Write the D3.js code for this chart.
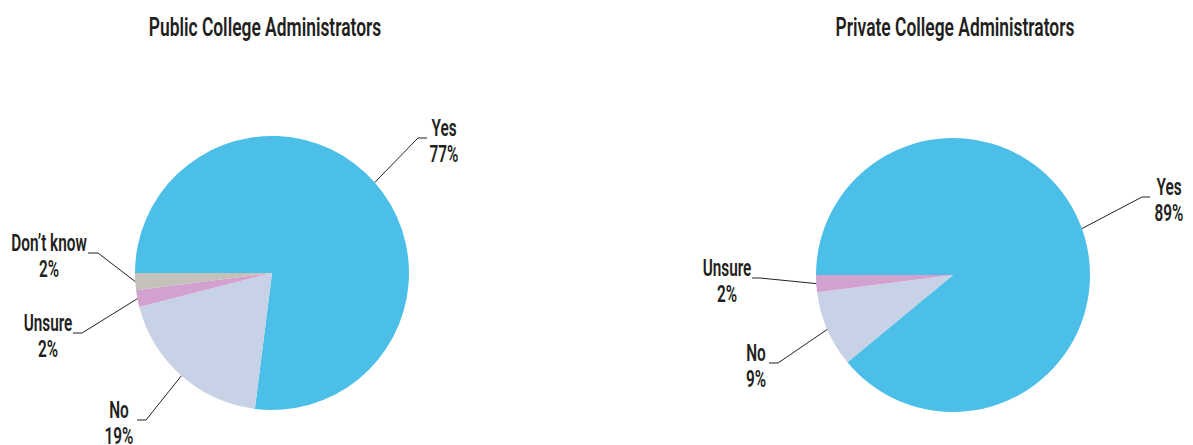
<!DOCTYPE html>
<html>
<head>
<meta charset="utf-8">
<script src="https://cdn.jsdelivr.net/npm/d3@7"></script>
<style>
  html, body { margin: 0; padding: 0; background: #ffffff; }
  svg { display: block; }
  text { font-family: Roboto, "Liberation Sans", sans-serif; fill: #231f20; }
</style>
</head>
<body>
<svg id="chart" width="1193" height="445"></svg>
<script>
// Survey answers, by type of institution
const publicCategories = ["Yes", "No", "Unsure", "Don\u2019t know"];
const publicValues = [77, 19, 2, 2];

const privateCategories = ["Yes", "No", "Unsure"];
const privateValues = [89, 9, 2];

const titles = ["Public College Administrators", "Private College Administrators"];

const colors = {
  "Yes": "#4bbfe8",
  "No": "#c8d2e6",
  "Unsure": "#d3a1cf",
  "Don\u2019t know": "#c3c1ba"
};

// Condensed look: horizontal squeeze applied to every text
const squeezeTitle = 0.67;
const squeezeLabel = 0.64;

// Pie placement and callout layout (elbow / line end / text centre, relative to pie centre)
const pies = [
  {
    title: titles[0], categories: publicCategories, values: publicValues,
    cx: 272, cy: 273, r: 137, titleX: 265,
    callouts: {
      "Yes":        { elbow: [146, -135], end: [155, -135], tx: 172 },
      "No":         { elbow: [-126, 147], end: [-135, 147], tx: -153 },
      "Unsure":     { elbow: [-190, 60],  end: [-199, 60],  tx: -224 },
      "Don\u2019t know": { elbow: [-174, -20], end: [-184, -20], tx: -223 }
    }
  },
  {
    title: titles[1], categories: privateCategories, values: privateValues,
    cx: 953, cy: 275, r: 137, titleX: 955,
    callouts: {
      "Yes":    { elbow: [189, -78], end: [197, -78], tx: 216 },
      "No":     { elbow: [-175, 88], end: [-184, 88], tx: -197 },
      "Unsure": { elbow: [-193, 3],  end: [-201, 3],  tx: -226 }
    }
  }
];

const svg = d3.select("#chart");

function squeezedText(g, x, y, str, size, weight, sx) {
  g.append("text")
    .attr("transform", `translate(${x},${y}) scale(${sx},1)`)
    .attr("text-anchor", "middle")
    .style("font-size", size + "px")
    .style("font-weight", weight)
    .text(str);
}

pies.forEach(p => {
  const data = p.categories.map((c, i) => ({ label: c, value: p.values[i] }));

  // Slices run clockwise from nine o'clock
  const pie = d3.pie()
    .sort(null)
    .value(d => d.value)
    .startAngle(-Math.PI / 2)
    .endAngle(3 * Math.PI / 2);

  const arc = d3.arc().innerRadius(0).outerRadius(p.r);
  const rim = d3.arc().innerRadius(p.r).outerRadius(p.r);

  const g = svg.append("g").attr("transform", `translate(${p.cx},${p.cy})`);

  const arcs = pie(data);

  g.selectAll("path.slice")
    .data(arcs)
    .join("path")
    .attr("class", "slice")
    .attr("d", arc)
    .attr("fill", d => colors[d.data.label]);

  // Leader lines and labels
  arcs.forEach(a => {
    const c = p.callouts[a.data.label];
    const start = rim.centroid(a);
    g.append("polyline")
      .attr("points", [start, c.elbow, c.end].map(pt => pt.join(",")).join(" "))
      .attr("fill", "none")
      .attr("stroke", "#231f20")
      .attr("stroke-width", 1);

    const lineY = c.end[1];
    squeezedText(g, c.tx, lineY - 2, a.data.label, 24, 600, squeezeLabel);
    squeezedText(g, c.tx, lineY + 24, a.data.value + "%", 24, 600, squeezeLabel);
  });

  squeezedText(svg, p.titleX, 36, p.title, 26, 600, squeezeTitle);
});
</script>
</body>
</html>
